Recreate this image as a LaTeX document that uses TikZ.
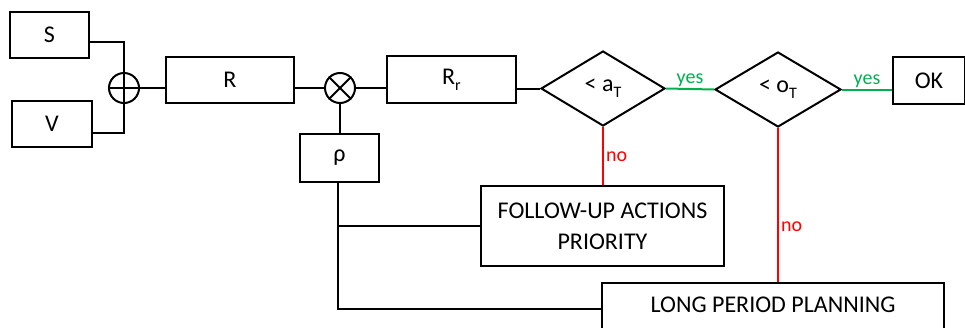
\documentclass[tikz,border=0pt]{standalone}
\usepackage{fontspec}
\setmainfont{Carlito}
\usetikzlibrary{shapes.geometric,calc}
\definecolor{okgreen}{RGB}{0,176,80}
\definecolor{nored}{RGB}{255,0,0}
\newcommand{\lowsub}[1]{\raisebox{-0.25em}{\fontsize{16}{16}\selectfont #1}}
\begin{document}
\begin{tikzpicture}[x=1pt,y=-1pt,
  every node/.style={font=\fontsize{24}{31}\selectfont},
  blk/.style={draw,line width=2pt,inner sep=0pt,rectangle},
  junction/.style={draw,line width=2pt,circle,minimum size=30pt,inner sep=0pt},
  decision/.style={draw,line width=2pt,diamond,inner sep=0pt},
  wire/.style={line width=2pt},
  yeswire/.style={line width=2pt,okgreen},
  nowire/.style={line width=2pt,nored},
  yeslabel/.style={okgreen,font=\fontsize{20}{20}\selectfont,inner sep=1pt},
  nolabel/.style={nored,font=\fontsize{20}{20}\selectfont,inner sep=2pt}]
\useasboundingbox (0,0) rectangle (965,327);
\begin{scope}
\clip (0,0) rectangle (965,327);
% blocks
\node[blk,minimum width=79pt,minimum height=46pt] (S) at (49.5,35) {S};
\node[blk,minimum width=80pt,minimum height=46pt] (V) at (52,124) {V};
\node[junction] (plus) at (124,88) {};
\draw[wire] (plus.north) -- (plus.south) (plus.west) -- (plus.east);
\node[blk,minimum width=128pt,minimum height=46pt] (R) at (230,80) {R};
\node[junction] (times) at (340,88) {};
\draw[wire] (times.north west) -- (times.south east) (times.north east) -- (times.south west);
\node[blk,minimum width=129pt,minimum height=47pt] (Rr) at (451.5,79.5) {R\lowsub{r}};
\node[blk,minimum width=79pt,minimum height=48pt] (rho) at (339.5,158) {ρ};
\node[decision,minimum width=124pt,minimum height=75pt] (d1) at (603,88.5) {< a\lowsub{T}};
\node[decision,minimum width=126pt,minimum height=75pt] (d2) at (778,89.5) {< o\lowsub{T}};
\node[blk,minimum width=72pt,minimum height=47pt] (OK) at (929,80.5) {OK};
\node[blk,minimum width=243pt,minimum height=80pt,align=center] (F) at (602.5,226)
  {FOLLOW-UP ACTIONS\\PRIORITY};
\node[blk,minimum width=342pt,minimum height=60pt,anchor=north] (L) at (773,282) {};
\node at ($(L.north)+(0,23)$) {LONG PERIOD PLANNING};
% connectors
\draw[wire] ($(S.east)+(0,7)$) -| (plus.north);
\draw[wire] ($(V.east)+(0,9)$) -| (plus.south);
\draw[wire] (plus.east) -- (plus.east -| R.west);
\draw[wire] (times.west -| R.east) -- (times.west);
\draw[wire] (times.east) -- (times.east -| Rr.west);
\draw[wire] (times.south) -- (times.south |- rho.north);
\draw[wire] (d1.west -| Rr.east) -- (d1.west);
\draw[yeswire] (d1.east) -- node[yeslabel,above] {yes} (d2.west);
\draw[yeswire] (d2.east) -- node[yeslabel,above] {yes} (d2.east -| OK.west);
\draw[nowire] (d1.south) -- node[nolabel,right,pos=0.52] {no} (d1.south |- F.north);
\draw[nowire] (d2.south) -- node[nolabel,right,pos=0.64] {no} (d2.south |- L.north);
\coordinate (tap) at ($(rho.south)+(-1.5,0)$);
\draw[wire] (tap) |- ($(L.north west)+(0,27)$);
\draw[wire] (tap |- F.west) -- (F.west);
\end{scope}
\end{tikzpicture}
\end{document}
